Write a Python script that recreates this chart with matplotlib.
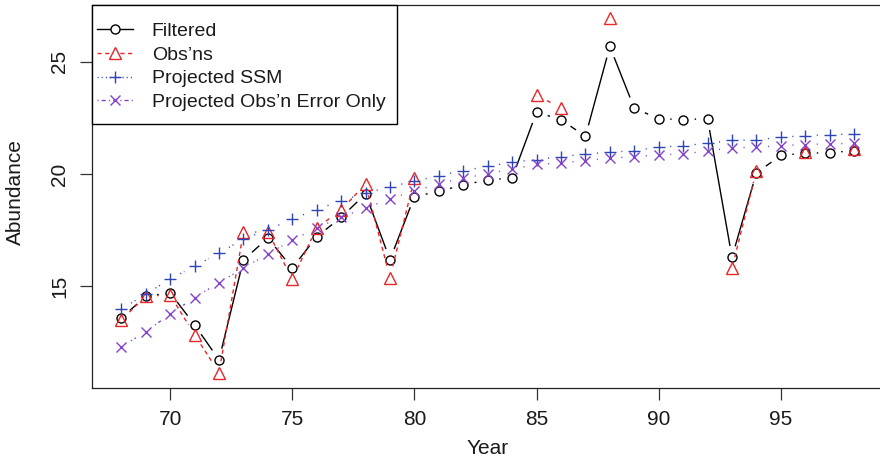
import numpy as np
import matplotlib
matplotlib.use("Agg")
import matplotlib.pyplot as plt
from matplotlib.lines import Line2D
from matplotlib.patches import Rectangle

plt.rcParams['font.family'] = ['Liberation Sans', 'DejaVu Sans']

years = np.arange(68, 99)
nan = np.nan

filtered = [13.57, 14.54, 14.70, 13.27, 11.71, 16.16, 17.14, 15.80, 17.20, 18.06,
            19.11, 16.17, 18.99, 19.22, 19.51, 19.73, 19.82, 22.75, 22.42, 21.67,
            25.68, 22.93, 22.46, 22.42, 22.46, 16.28, 20.05, 20.82, 20.93, 20.94,
            21.04]
obs = [13.48, 14.55, 14.60, 12.83, 11.14, 17.39, 17.42, 15.31, 17.59, 18.39,
       19.55, 15.38, 19.80, nan, nan, nan, nan, 23.50, 22.95, nan,
       26.96, nan, nan, nan, nan, 15.79, 20.15, nan, 20.96, nan,
       21.12]
proj_ssm = [13.97, 14.64, 15.31, 15.89, 16.46, 17.10, 17.50, 17.99, 18.41, 18.81,
            19.13, 19.43, 19.67, 19.92, 20.15, 20.33, 20.52, 20.64, 20.77, 20.89,
            20.96, 21.04, 21.19, 21.26, 21.36, 21.49, 21.52, 21.63, 21.71, 21.74,
            21.79]
proj_obs_err = [12.29, 12.96, 13.75, 14.48, 15.15, 15.80, 16.43, 17.05, 17.59, 18.06,
                18.48, 18.88, 19.25, 19.55, 19.82, 20.00, 20.22, 20.42, 20.49, 20.59,
                20.70, 20.77, 20.85, 20.89, 21.02, 21.16, 21.19, 21.26, 21.31, 21.34,
                21.36]

RED = '#e8262a'
BLUE = '#2f45b5'
PURPLE = '#8642c8'

DASHED = (0, (3, 2.5))
DOTTED = (0, (0.8, 2.2))
DOTDASH = (0, (0.8, 2.2, 3, 2.2))

W, H = 880, 459
fig = plt.figure(figsize=(W / 100, H / 100), dpi=100)
ax = fig.add_axes([91.7 / W, (H - 388.3) / H, 792 / W, 383.3 / H])
ax.set_xlim(66.79, 99.21)
ax.set_ylim(10.44, 27.53)


def px(x, y):
    # pixel position measured from the top-left corner -> figure fraction
    return x / W, 1 - y / H


def gapped_line(x, y, gap=11.5, **kw):
    # line segments between points, stopping short of each marker ("b" style)
    pts = ax.transData.transform(np.column_stack([x, np.asarray(y, float)]))
    inv = ax.transData.inverted()
    for p0, p1 in zip(pts[:-1], pts[1:]):
        if np.isnan(p0).any() or np.isnan(p1).any():
            continue
        d = p1 - p0
        length = np.hypot(*d)
        if length <= 2 * gap:
            continue
        u = d / length
        a = inv.transform(p0 + u * gap)
        b = inv.transform(p1 - u * gap)
        ax.plot([a[0], b[0]], [a[1], b[1]], lw=1, solid_capstyle='butt',
                dash_capstyle='butt', **kw)


series = [
    (filtered, 'black', '-', 'o', 6.5, 'Filtered'),
    (obs, RED, DASHED, '^', 8, "Obs’ns"),
    (proj_ssm, BLUE, DOTTED, '+', 8.5, 'Projected SSM'),
    (proj_obs_err, PURPLE, DOTDASH, 'x', 6.5, 'Projected Obs’n Error Only'),
]

for vals, col, ls, mk, ms, lab in series:
    gapped_line(years, vals, color=col, linestyle=ls)
    ax.plot(years, vals, linestyle='none', marker=mk, ms=ms, mfc='none',
            mec=col, mew=1)

ax.set_xticks([70, 75, 80, 85, 90, 95])
ax.set_yticks([15, 20, 25])
ax.tick_params(length=8.8, width=0.9, color='#333333', labelsize=15,
               labelcolor='#1a1a1a')
ax.tick_params(axis='x', pad=6.5)
ax.tick_params(axis='y', pad=7.2)
plt.setp(ax.get_yticklabels(), rotation=90, va='center')
for sp in ax.spines.values():
    sp.set_linewidth(0.9)
    sp.set_color('#222222')

fig.text(488 / W, 0.5 / H, 'Year', ha='center', va='bottom', fontsize=15,
         color='#1a1a1a')
fig.text(15.5 / W, (H - 192) / H, 'Abundance', rotation=90, ha='center',
         va='center', fontsize=15, color='#1a1a1a')

# legend box in the top-left corner of the plot region
x0, y0 = px(91.7, 124)
x1, y1 = px(397, 5)
fig.add_artist(Rectangle((x0, y0), x1 - x0, y1 - y0, transform=fig.transFigure,
                         facecolor='white', edgecolor='black', lw=1.0, zorder=5))
for i, (vals, col, ls, mk, ms, lab) in enumerate(series):
    yc = 29 + 23.8 * i
    xa, ya = px(97, yc)
    xb, _ = px(133, yc)
    xm, _ = px(115, yc)
    fig.add_artist(Line2D([xa, xb], [ya, ya], transform=fig.transFigure,
                          color=col, linestyle=ls, lw=1, dash_capstyle='butt',
                          zorder=6))
    fig.add_artist(Line2D([xm], [ya], transform=fig.transFigure, linestyle='none',
                          marker=mk, ms=ms, mfc='white', mec=col, mew=1,
                          zorder=7))
    tx, ty = px(151.7, yc + 6.8)
    fig.text(tx, ty, lab, ha='left', va='baseline', fontsize=14,
             color='#1a1a1a', zorder=7)

fig.savefig('out.png', dpi=100)
